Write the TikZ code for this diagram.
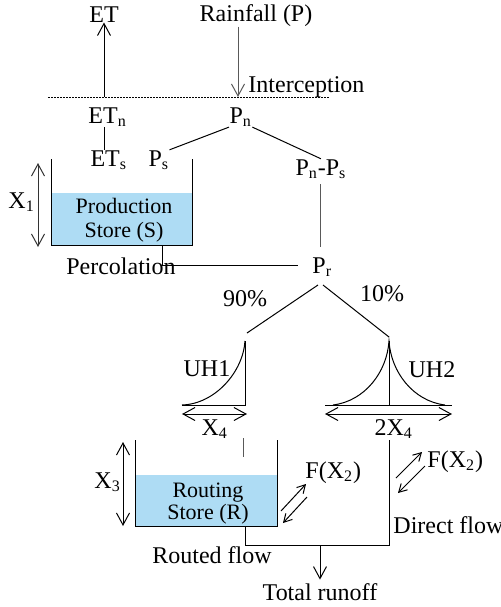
\documentclass[tikz,border=0pt]{standalone}
\usepackage{fontspec}
\setmainfont{Liberation Serif}
\usetikzlibrary{arrows.meta}
\definecolor{storeBlue}{RGB}{174,220,244}
\newcommand{\waterColor}{storeBlue}
\newcommand{\faintColor}{black!65}

\begin{document}
\begin{tikzpicture}[
            x=0.5pt, y=-0.5pt,
            line width=0.5pt,
            every node/.append style={inner sep=0pt, anchor=base, font=\fontsize{12}{14}\selectfont},
            flow/.style={-{Straight Barb[length=6pt,width=6.5pt]}},
            span/.style={{Straight Barb[length=6pt,width=6.5pt]}-{Straight Barb[length=6pt,width=6.5pt]}},
            exchange/.style={-{Straight Barb[length=4pt,width=4.5pt]}},
            water/.style={fill=\waterColor, draw=none},
            storeText/.style={font=\fontsize{11}{13}\selectfont}
        ]
        \useasboundingbox (0,0) rectangle (501,607);

        % top: evaporation, rainfall, interception
        \node (et) at (104,22) {ET};
        \node (rain) at (256,21) {Rainfall (P)};
        \node[anchor=base west] (interception) at (248,92) {Interception};
        \coordinate (lineLeft) at (48,97);
        \coordinate (lineRight) at (330,97);
        \coordinate (etFoot) at (104,97);
        \coordinate (rainFoot) at (238,97);
        \draw[dash pattern=on 1pt off 0.5pt] (lineLeft) -- (lineRight);
        \draw[flow] (etFoot) -- (et);
        \draw[flow, draw=\faintColor] (rain.south -| rainFoot) -- (rainFoot);

        \node[anchor=base west] (etn) at (88,123) {ET\textsubscript{n}};
        \node[anchor=base west] (pn) at (229,123) {P\textsubscript{n}};
        \node[anchor=base west] (ets) at (90,166) {ET\textsubscript{s}};
        \node[anchor=base west] (ps) at (148,166) {P\textsubscript{s}};
        \node[anchor=base west] (pnps) at (295,175) {P\textsubscript{n}-P\textsubscript{s}};
        \node[anchor=base west] (pr) at (312,273) {P\textsubscript{r}};
        \draw (etn.south -| et) -- (ets.north -| et);
        \draw (pn.south west) -- (ps.north east);
        \draw (pn.south east) -- (pnps.north);
        \draw[draw=\faintColor, shorten <=2.5pt, shorten >=5pt] (pnps.south) -- (pr.north -| pnps.south);

        % production store
        \fill[water] (51,193) rectangle (192,245);
        \draw (51,159) -- (51,245) -- (192,245) -- (192,159);
        \node[storeText] (prodTop) at (124,213) {Production};
        \node[storeText] (prodBottom) at (124,237) {Store (S)};
        \draw[span, draw=black!80] (38,163) -- (38,247);
        \node[anchor=base west] (xone) at (8,208) {X\textsubscript{1}};
        \coordinate (prodOut) at (162,245);
        \coordinate (prIn) at (298,265);
        \draw (prodOut) |- (prIn);
        \node (percolation) at (121,274) {Percolation};

        % split to unit hydrographs
        \coordinate (prLeft) at (318,285);
        \coordinate (prRight) at (323,285);
        \coordinate (uhOneTop) at (247,333);
        \coordinate (uhTwoTop) at (389,337);
        \draw (prLeft) -- (uhOneTop);
        \draw (prRight) -- (uhTwoTop);
        \node (ninety) at (245,306) {90\%};
        \node (ten) at (382,301) {10\%};

        % UH1
        \coordinate (uhOnePeak) at (245,341);
        \coordinate (uhOneBase) at (245,405);
        \coordinate (uhOneStart) at (182,405);
        \draw (uhOneStart) -- (uhOneBase) -- (uhOnePeak);
        \draw (uhOneStart) .. controls (215,404) and (243,372) .. (uhOnePeak);
        \draw[span] (182,414) -- (247,414);
        \node (uhOne) at (207,376) {UH1};
        \node[anchor=base west] (xfour) at (201,435) {X\textsubscript{4}};

        % UH2
        \coordinate (uhTwoPeak) at (389,341);
        \coordinate (uhTwoBase) at (389,405);
        \draw (325,405) -- (452,405);
        \draw (uhTwoBase) -- (uhTwoPeak);
        \draw (333,405) .. controls (365,401) and (387,372) .. (uhTwoPeak)
              .. controls (391,372) and (413,401) .. (445,405);
        \draw[span] (325,414) -- (452,414);
        \node (uhTwo) at (432,377) {UH2};
        \node[anchor=base west] (twoxfour) at (374,435) {2X\textsubscript{4}};

        % routing store
        \coordinate (uhOneOut) at (243,438);
        \coordinate (routIn) at (243,457);
        \draw[draw=\faintColor] (uhOneOut) -- (routIn);
        \fill[water] (135,475) rectangle (277,526);
        \draw (135,440) -- (135,526) -- (277,526) -- (277,440);
        \node[storeText] (routTop) at (208,497) {Routing};
        \node[storeText] (routBottom) at (208,519) {Store (R)};
        \draw[span] (123,442) -- (123,526);
        \node[anchor=base west] (xthree) at (94,488) {X\textsubscript{3}};

        % exchange F(X2)
        \draw[exchange] (281,511) -- (306,484);
        \draw[exchange] (307,497) -- (283,523);
        \node[anchor=base west] (exchR) at (305,478) {F(X\textsubscript{2})};
        \draw[exchange] (396,478) -- (422,452);
        \draw[exchange] (425,466) -- (398,493);
        \node[anchor=base west] (exchD) at (427,467) {F(X\textsubscript{2})};

        % outflows
        \coordinate (routOut) at (245,526);
        \coordinate (directJoin) at (389,545);
        \coordinate (uhTwoOut) at (389,440);
        \coordinate (totalJoin) at (320,545);
        \draw (routOut) |- (directJoin) -- (uhTwoOut);
        \node (routed) at (212,563) {Routed flow};
        \node[anchor=base west] (direct) at (393,533) {Direct flow};
        \node (total) at (320,600) {Total runoff};
        \draw[flow, shorten >=1.5pt] (totalJoin) -- (total);

    \end{tikzpicture}
\end{document}
